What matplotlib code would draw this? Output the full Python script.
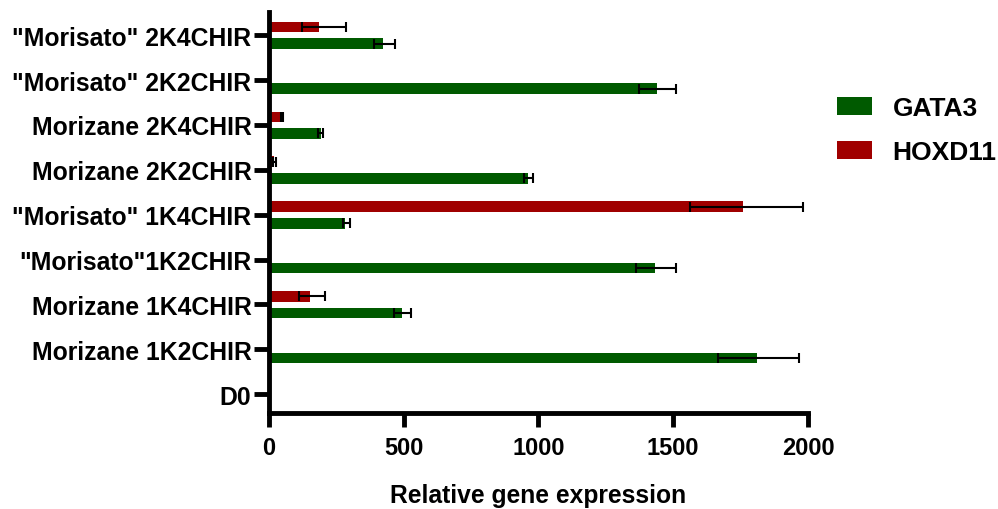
import numpy as np
import matplotlib
matplotlib.use("Agg")
import matplotlib.pyplot as plt

plt.rcParams["font.family"] = ["Liberation Sans", "DejaVu Sans"]
plt.rcParams["font.weight"] = "bold"

# ── data (bottom to top) ────────────────────────────────────────────────────
groups = [
    "D0",
    "Morizane 1K2CHIR",
    "Morizane 1K4CHIR",
    '"Morisato"1K2CHIR',
    '"Morisato" 1K4CHIR',
    "Morizane 2K2CHIR",
    "Morizane 2K4CHIR",
    '"Morisato" 2K2CHIR',
    '"Morisato" 2K4CHIR',
]
gata3 = [0, 1810, 495, 1433, 284, 962, 194, 1440, 425]
gata3_lo = [0, 1667, 464, 1362, 275, 948, 184, 1373, 389]
gata3_hi = [0, 1967, 529, 1509, 302, 981, 202, 1511, 468]
hoxd11 = [0, 0, 153, 0, 1758, 20, 49, 0, 187]
hoxd11_lo = [0, 0, 113, 0, 1562, 15, 44, 0, 123]
hoxd11_hi = [0, 0, 210, 0, 1983, 25, 54, 0, 286]

GREEN = "#005a00"
RED = "#a00000"

fig = plt.figure(figsize=(9.98, 5.10), dpi=100)
ax = fig.add_axes([0.2693, 0.188, 0.5403, 0.786])

y = np.arange(len(groups))
h = 0.235
off_red, off_green = 0.18, -0.19


def draw(vals, lo, hi, off, color, label):
    vals, lo, hi = map(np.asarray, (vals, lo, hi))
    ax.barh(y + off, vals, height=h, color=color, label=label, zorder=2)
    m = vals > 0
    err = np.vstack([vals[m] - lo[m], hi[m] - vals[m]])
    ax.errorbar(vals[m], y[m] + off, xerr=err, fmt="none", ecolor="black",
                elinewidth=1.5, capsize=3.5, capthick=1.5, zorder=3)


draw(gata3, gata3_lo, gata3_hi, off_green, GREEN, "GATA3")
draw(hoxd11, hoxd11_lo, hoxd11_hi, off_red, RED, "HOXD11")

ax.set_xlim(0, 2000)
ax.set_ylim(-0.42, 8.51)
ax.set_xticks([0, 500, 1000, 1500, 2000])
ax.set_yticks(y)
ax.set_yticklabels(groups, fontsize=17.8, fontweight="bold")
for t in ax.get_xticklabels():
    t.set_fontsize(17)
    t.set_fontweight("bold")

for s in ("top", "right"):
    ax.spines[s].set_visible(False)
for s in ("left", "bottom"):
    ax.spines[s].set_linewidth(3.5)
    ax.spines[s].set_capstyle("projecting")
ax.tick_params(axis="x", length=10, width=3.5, pad=6.5)
ax.tick_params(axis="y", length=11, width=3.5, pad=1.5)

ax.set_xlabel("Relative gene expression", fontsize=17.7, fontweight="bold",
              labelpad=17)

handles, labels = ax.get_legend_handles_labels()
fig.legend(handles, labels, loc="upper left", bbox_to_anchor=(0.825, 0.835),
           frameon=False, handlelength=1.35, handleheight=0.67,
           handletextpad=0.77, labelspacing=0.75, borderpad=0,
           prop={"size": 19, "weight": "bold"})

fig.savefig("out.png", dpi=100)
